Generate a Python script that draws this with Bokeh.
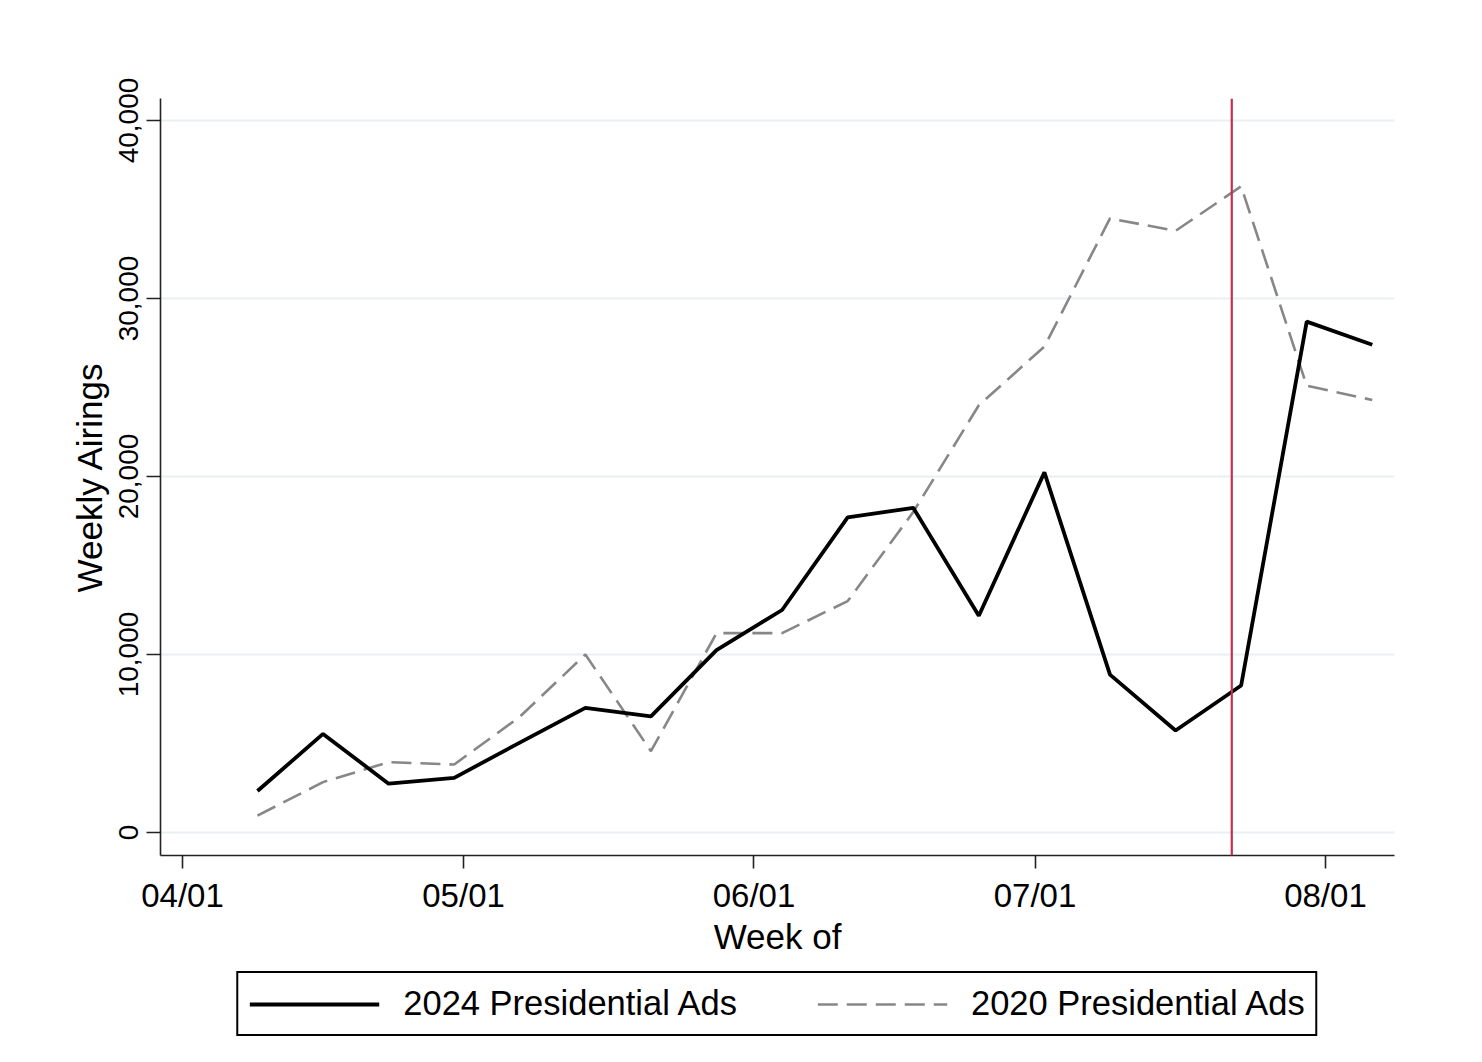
import datetime as dt
from bokeh.plotting import figure
from bokeh.layouts import column
from bokeh.models import (ColumnDataSource, FixedTicker, NumeralTickFormatter,
                          DatetimeTickFormatter, Span, Legend, LegendItem, Range1d)
from bokeh.embed import file_html
from bokeh.resources import INLINE

# ---------------- data ----------------
weeks = ["2024-04-09", "2024-04-16", "2024-04-23", "2024-04-30", "2024-05-07",
         "2024-05-14", "2024-05-21", "2024-05-28", "2024-06-04", "2024-06-11",
         "2024-06-18", "2024-06-25", "2024-07-02", "2024-07-09", "2024-07-16",
         "2024-07-23", "2024-07-30", "2024-08-06"]
ads_2024 = [2330, 5540, 2740, 3070, 5050, 7000, 6520, 10250, 12500, 17700,
            18240, 12180, 20230, 8870, 5730, 8260, 28700, 27400]
ads_2020 = [950, 2830, 3950, 3820, 6500, 10000, 4570, 11200, 11200, 13000,
            18000, 24000, 27300, 34500, 33800, 36300, 25100, 24300]
x_tick_dates = ["2024-04-01", "2024-05-01", "2024-06-01", "2024-07-01", "2024-08-01"]
y_ticks = [0, 10000, 20000, 30000, 40000]
event_date = "2024-07-22"
series_labels = ["2024 Presidential Ads", "2020 Presidential Ads"]


def ms(s):
    d = dt.datetime.strptime(s, "%Y-%m-%d").replace(tzinfo=dt.timezone.utc)
    return d.timestamp() * 1000.0


DAY = 86400000.0
x = [ms(w) for w in weeks]
src = ColumnDataSource(dict(x=x, a24=ads_2024, a20=ads_2020))

FONT = "Liberation Sans"
STYLE_24 = dict(line_color="black", line_width=3.8)
STYLE_20 = dict(line_color="#878787", line_width=2.6, line_dash="20 9")

p = figure(x_axis_type="datetime", output_backend="svg", toolbar_location=None,
           frame_width=1234, frame_height=757,
           min_border_left=160, min_border_top=98, min_border_right=60,
           min_border_bottom=110,
           x_range=Range1d(ms(x_tick_dates[0]) - 2.35 * DAY, ms(x_tick_dates[0]) + 129.37 * DAY),
           y_range=Range1d(-1292, 41236),
           background_fill_color="white", border_fill_color="white")
p.outline_line_color = None

# grid
p.xgrid.visible = False
p.ygrid.grid_line_color = "#E8F0F2"
p.ygrid.grid_line_width = 2

# axes
for ax in (p.xaxis[0], p.yaxis[0]):
    ax.axis_line_color = "#222222"
    ax.axis_line_width = 1.6
    ax.major_tick_line_color = "#222222"
    ax.major_tick_line_width = 1.6
    ax.major_tick_in = 0
    ax.minor_tick_line_color = None
    ax.major_label_text_font = FONT
    ax.major_label_text_color = "black"
    ax.axis_label_text_font = FONT
    ax.axis_label_text_font_style = "normal"
    ax.axis_label_text_color = "black"
    ax.axis_label_text_font_size = "35px"

p.xaxis.ticker = FixedTicker(ticks=[ms(d) for d in x_tick_dates])
fmt = "%m/%d"
p.xaxis.formatter = DatetimeTickFormatter(
    microseconds=fmt, milliseconds=fmt, seconds=fmt, minsec=fmt, minutes=fmt,
    hourmin=fmt, hours=fmt, days=fmt, months=fmt, years=fmt)
p.xaxis.major_label_text_font_size = "33px"
p.xaxis.major_tick_out = 13
p.xaxis.major_label_standoff = 8
p.xaxis.axis_label = "Week of"
p.xaxis.axis_label_standoff = 0

p.yaxis.ticker = FixedTicker(ticks=y_ticks)
p.yaxis.formatter = NumeralTickFormatter(format="0,0")
p.yaxis.major_label_text_font_size = "28px"
p.yaxis.major_label_orientation = "vertical"
p.yaxis.major_tick_out = 14
p.yaxis.major_label_standoff = 8
p.yaxis.axis_label = "Weekly Airings"
p.yaxis.axis_label_standoff = 8

# event line
p.add_layout(Span(location=ms(event_date), dimension="height",
                  line_color="#C62D50", line_width=2.2))

# series
p.line("x", "a20", source=src, **STYLE_20)
p.line("x", "a24", source=src, **STYLE_24)

# ---------------- legend strip (separate figure below) ----------------
q = figure(output_backend="svg", toolbar_location=None,
           frame_width=1234, frame_height=100,
           min_border_left=160, min_border_right=60, min_border_top=0,
           min_border_bottom=0,
           x_range=Range1d(0, 1), y_range=Range1d(0, 1),
           x_axis_location=None, y_axis_location=None,
           background_fill_color="white", border_fill_color="white")
q.outline_line_color = None
q.grid.visible = False
# same series drawn on a unit range: fully outside the strip's frame, so only
# their legend glyphs are seen
k24 = q.line("x", "a24", source=src, **STYLE_24)
k20 = q.line("x", "a20", source=src, **STYLE_20)

legend = Legend(items=[LegendItem(label=series_labels[0], renderers=[k24]),
                       LegendItem(label=series_labels[1], renderers=[k20])],
                orientation="horizontal", location="top_center",
                border_line_color="black", border_line_width=2,
                border_line_alpha=1.0,
                label_text_font=FONT, label_text_font_size="34.5px",
                label_text_color="black",
                glyph_width=130, glyph_height=34, label_standoff=24,
                spacing=80, padding=11, margin=6,
                background_fill_color="white", background_fill_alpha=1.0)
q.add_layout(legend, "center")

layout = column(p, q, spacing=0)
open("out.html", "w").write(file_html(layout, INLINE))
